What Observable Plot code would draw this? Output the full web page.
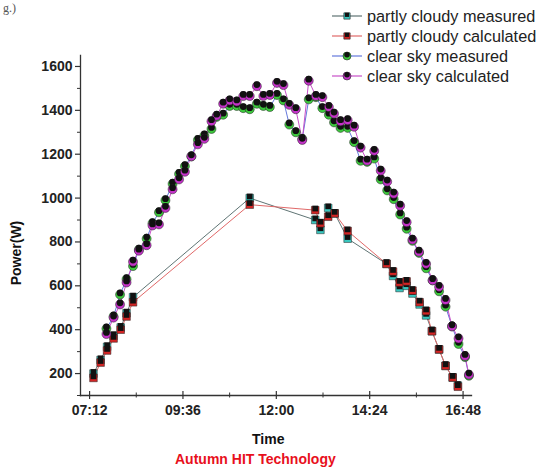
<!DOCTYPE html>
<html>
<head>
<meta charset="utf-8">
<script src="https://cdn.jsdelivr.net/npm/d3@7"></script>
<script src="https://cdn.jsdelivr.net/npm/@observablehq/plot@0.6"></script>
<style>
  html, body { margin: 0; padding: 0; background: #fff; }
  #wrap { position: relative; width: 544px; height: 473px; overflow: hidden; font-family: "Liberation Sans", Arial, sans-serif; }
  .lbl { position: absolute; font-weight: bold; white-space: nowrap; }
</style>
</head>
<body>
<div id="wrap"></div>
<script>
// ---- data ----
const pcTimes = ["07:18","07:29","07:39","07:49","08:00","08:09","08:19","11:19","13:00","13:08","13:20","13:30","13:50","14:50","15:00","15:10","15:21","15:30","15:41","15:51","16:00","16:11","16:21","16:32","16:40"];
const pcMeasured = [200,262,322,372,410,475,548,1000,900,855,955,930,815,700,645,590,600,565,515,465,393,310,235,182,145];
const pcCalculated = [180,250,305,360,400,460,525,970,945,885,915,930,850,700,665,615,620,578,525,485,393,310,235,182,140];

const csTimes = ["07:38","07:49","07:59","08:09","08:19","08:28","08:40","08:49","08:59","09:09","09:20","09:30","09:39","09:49","09:59","10:09","10:20","10:28","10:38","10:48","10:59","11:09","11:19","11:30","11:40","11:50","12:01","12:11","12:20","12:30","12:40","12:50","13:01","13:11","13:21","13:29","13:39","13:50","14:00","14:10","14:20","14:31","14:41","14:51","15:01","15:11","15:21","15:30","15:40","15:51","16:01","16:11","16:21","16:31","16:41","16:51","16:57"];
const csMeasured = [405,460,560,630,690,765,815,885,935,990,1065,1110,1145,1190,1265,1285,1315,1370,1380,1420,1420,1410,1405,1430,1420,1415,1470,1445,1335,1300,1270,1450,1460,1410,1380,1345,1320,1320,1255,1170,1165,1180,1085,1035,995,925,860,805,750,680,625,575,505,415,335,275,190];
const csCalculated = [380,455,515,615,710,760,785,875,880,955,1040,1085,1120,1190,1245,1270,1350,1375,1430,1445,1440,1465,1465,1510,1465,1470,1525,1515,1425,1405,1265,1535,1465,1460,1415,1385,1350,1355,1325,1230,1170,1215,1125,1075,1020,965,890,810,755,700,625,595,535,415,360,280,195];

const xTickLabels = ["07:12","09:36","12:00","14:24","16:48"];
const xMinorLabels = ["08:24","10:48","13:12","15:36"];
const yTicks = [200,400,600,800,1000,1200,1400,1600];
const yMinor = [100,300,500,700,900,1100,1300,1500];

const seriesNames = ["partly cloudy measured","partly cloudy calculated","clear sky measured","clear sky calculated"];
const markerColors = ["#38c8c0","#d42424","#3cc83c","#c432c8"];
const lineColors = ["#5f7474","#e06868","#6478dc","#c850c8"];
const symbols = ["square","square","circle","circle"];

// ---- build ----
const toMin = s => { const [h,m] = s.split(":").map(Number); return h*60+m; };
const fmt = m => String(Math.floor(m/60)).padStart(2,"0") + ":" + String(m%60).padStart(2,"0");

const series = [
  pcTimes.map((t,i)=>({t:toMin(t), v:pcMeasured[i]})),
  pcTimes.map((t,i)=>({t:toMin(t), v:pcCalculated[i]})),
  csTimes.map((t,i)=>({t:toMin(t), v:csMeasured[i]})),
  csTimes.map((t,i)=>({t:toMin(t), v:csCalculated[i]}))
];

const marks = [];
// axes
marks.push(Plot.axisY({ticks: yTicks, tickFormat: d => String(d), tickSize: 5, tickPadding: 3, fontSize: 14, fontWeight: "bold", label: null, stroke: "#333", strokeWidth: 1.2}));
marks.push(Plot.axisY({ticks: yMinor, tickSize: 3, text: null, label: null, stroke: "#333"}));
marks.push(Plot.axisX({ticks: xTickLabels.map(toMin), tickSize: 8, dy: -4, text: null, label: null, stroke: "#333", strokeWidth: 1.2}));
marks.push(Plot.axisX({ticks: xTickLabels.map(toMin), tickFormat: fmt, tickSize: 0, tickPadding: 10, fontSize: 14, fontWeight: "bold", label: null}));
marks.push(Plot.axisX({ticks: xMinorLabels.map(toMin), tickSize: 5, dy: -2.5, text: null, label: null, stroke: "#333"}));
marks.push(Plot.frame({anchor: "left", stroke: "#333", strokeWidth: 1.3}));
marks.push(Plot.frame({anchor: "bottom", stroke: "#333", strokeWidth: 1.3}));

// lines
series.forEach((d,i)=> marks.push(Plot.line(d, {x:"t", y:"v", stroke: lineColors[i], strokeWidth: 1})));
// markers
series.forEach((d,i)=> {
  const r = symbols[i] === "square" ? 4.3 : 4.5;
  marks.push(Plot.dot(d, {x:"t", y:"v", symbol: symbols[i], r, fill: markerColors[i], stroke: "#222", strokeWidth: 0.5}));
  marks.push(Plot.dot(d, {x:"t", y:"v", symbol: symbols[i], r: r*0.75, fill: "#111", dy: -1.6}));
});

const plot = Plot.plot({
  width: 544, height: 473,
  marginLeft: 80, marginRight: 73, marginTop: 55, marginBottom: 78,
  x: {domain: [418, 1021]},
  y: {domain: [100, 1650]},
  style: {background: "white", fontFamily: "Liberation Sans, Arial, sans-serif", color: "#222"},
  marks
});
const wrap = document.getElementById("wrap");
wrap.appendChild(plot);

// legend (overlay svg)
const leg = d3.select(wrap).append("svg").attr("width", 544).attr("height", 100)
  .style("position","absolute").style("left","0px").style("top","0px");
const rowY = [16, 36, 56, 76];
seriesNames.forEach((name,i)=>{
  const g = leg.append("g").attr("transform", `translate(0,${rowY[i]})`);
  g.append("line").attr("x1",332).attr("x2",362).attr("y1",0).attr("y2",0).attr("stroke",lineColors[i]).attr("stroke-width",1.2);
  const sym = d3.symbol(symbols[i]==="square"?d3.symbolSquare:d3.symbolCircle, symbols[i]==="square"?40:50);
  g.append("path").attr("d", sym()).attr("transform","translate(347,0)").attr("fill",markerColors[i]).attr("stroke","#222").attr("stroke-width",0.6);
  const sym2 = d3.symbol(symbols[i]==="square"?d3.symbolSquare:d3.symbolCircle, symbols[i]==="square"?18:24);
  g.append("path").attr("d", sym2()).attr("transform","translate(347,-1.2)").attr("fill","#111");
  g.append("text").attr("x",367).attr("y",0).attr("dy","0.35em").attr("font-size",16.3)
    .attr("font-family","Liberation Sans, Arial, sans-serif").attr("fill","#222").text(name);
});

// labels
function addLabel(text, css) {
  const d = document.createElement("div");
  d.className = "lbl"; d.textContent = text;
  Object.assign(d.style, css);
  wrap.appendChild(d);
  return d;
}
addLabel("Time", {left: "252px", top: "431px", fontSize: "14px", color: "#111"});
addLabel("Autumn HIT Technology", {left: "175px", top: "451px", fontSize: "14px", color: "#e8101c"});
addLabel("Power(W)", {left: "-16px", top: "245px", fontSize: "14px", color: "#111", transform: "rotate(-90deg)", transformOrigin: "center"});
addLabel("g.)", {left: "3px", top: "1px", fontSize: "12px", lineHeight: "14px", color: "#555", fontWeight: "normal", fontFamily: "Liberation Serif, serif"});
</script>
</body>
</html>
